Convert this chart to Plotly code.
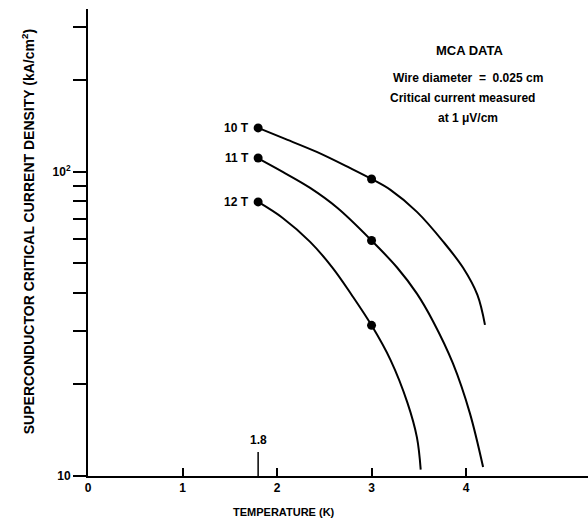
import math
import plotly.graph_objects as go

# Curves: temperature (K) and critical current density (kA/cm^2)
t_10T = [1.80, 2.06, 2.42, 2.77, 3.00, 3.20, 3.48, 3.76, 3.97, 4.12, 4.20]
j_10T = [139.6, 129.4, 116.4, 103.1, 94.8, 87.3, 73.9, 58.9, 48.3, 39.4, 31.4]

t_11T = [1.79, 2.06, 2.35, 2.64, 3.00, 3.27, 3.48, 3.65, 3.86, 4.04, 4.18]
j_11T = [111.2, 100.0, 88.6, 76.1, 59.5, 48.5, 39.8, 32.3, 23.5, 16.1, 10.7]

t_12T = [1.80, 2.06, 2.35, 2.59, 2.79, 3.00, 3.20, 3.38, 3.48, 3.52]
j_12T = [79.7, 70.6, 58.9, 48.3, 39.4, 31.3, 24.1, 17.4, 13.4, 10.5]

# Measured points (dots)
dot_t = [1.8, 3.0]
dot_10T = [139.6, 94.8]
dot_11T = [111.2, 59.5]
dot_12T = [79.7, 31.3]

series_labels = ["10 T", "11 T", "12 T"]

x_tickvals = [0, 1, 2, 3, 4]
x_ticktext = ["<b>0</b>", "<b>1</b>", "<b>2</b>", "<b>3</b>", "<b>4</b>"]
y_tickvals = [10, 20, 30, 40, 50, 60, 70, 80, 90, 100, 200, 300]
y_ticktext = ["<b>10</b>", "", "", "", "", "", "", "", "", "<b>10<sup>2</sup></b>", "", ""]

marker_t = [1.8, 1.8]
marker_j = [10, 12.0]

FONT = "Liberation Sans, Arial, sans-serif"

fig = go.Figure()

curves = [(t_10T, j_10T), (t_11T, j_11T), (t_12T, j_12T)]
dots = [dot_10T, dot_11T, dot_12T]
for (t, j), d, name in zip(curves, dots, series_labels):
    fig.add_trace(go.Scatter(x=t, y=j, mode="lines",
                             line=dict(color="black", width=2, shape="spline", smoothing=1.0),
                             showlegend=False, hoverinfo="skip"))
    fig.add_trace(go.Scatter(x=dot_t, y=d, mode="markers",
                             marker=dict(color="black", size=9),
                             showlegend=False, name=name))
    fig.add_annotation(x=dot_t[0], y=math.log10(d[0]), xref="x", yref="y",
                       text="<b>%s</b>" % name,
                       showarrow=False, xanchor="right", xshift=-7,
                       font=dict(family=FONT, size=12, color="black"))

# 1.8 K marker tick
fig.add_trace(go.Scatter(x=marker_t, y=marker_j, mode="lines",
                         line=dict(color="black", width=1.5),
                         showlegend=False, hoverinfo="skip"))
fig.add_annotation(x=marker_t[1], y=math.log10(marker_j[1]), xref="x", yref="y",
                   text="<b>1.8</b>",
                   showarrow=False, yanchor="bottom", yshift=3,
                   font=dict(family=FONT, size=12, color="black"))

# Info text
fig.add_annotation(x=0.764, y=0.912, xref="paper", yref="paper", text="<b>MCA DATA</b>",
                   showarrow=False, xanchor="center", yanchor="middle",
                   font=dict(family=FONT, size=13, color="black"))
info_lines = ["Wire diameter  =  0.025 cm", "Critical current measured", "at 1 μV/cm"]
info_x = [0.759, 0.748, 0.759]
info_y = [0.852, 0.809, 0.767]
for txt, xx, yy in zip(info_lines, info_x, info_y):
    fig.add_annotation(x=xx, y=yy, xref="paper", yref="paper", text="<b>%s</b>" % txt,
                       showarrow=False, xanchor="center", yanchor="middle",
                       font=dict(family=FONT, size=12, color="black"))

fig.add_annotation(x=-0.12, y=0.522, xref="paper", yref="paper",
                   text="<b>SUPERCONDUCTOR CRITICAL CURRENT DENSITY (kA/cm<sup>2</sup>)</b>",
                   showarrow=False, textangle=-90, xanchor="center", yanchor="middle",
                   font=dict(family=FONT, size=14, color="black"))

fig.add_annotation(x=0.392, y=-0.077, xref="paper", yref="paper",
                   text="<b>TEMPERATURE (K)</b>",
                   showarrow=False, xanchor="center", yanchor="middle",
                   font=dict(family=FONT, size=11, color="black"))

fig.update_layout(
    width=588, height=520,
    margin=dict(l=88, r=0, t=9, b=44, autoexpand=False),
    paper_bgcolor="white", plot_bgcolor="white",
    font=dict(family=FONT, color="black"),
    xaxis=dict(range=[0, 5.29], tickmode="array", tickvals=x_tickvals, ticktext=x_ticktext,
               ticks="inside", ticklen=8, tickwidth=1.5, tickcolor="black",
               showline=True, linecolor="black", linewidth=2, showgrid=False, zeroline=False,
               automargin=False,
               tickfont=dict(family=FONT, size=12, color="black")),
    yaxis=dict(type="log", range=[1, 2.536], tickmode="array", tickvals=y_tickvals,
               ticktext=y_ticktext, ticks="outside", ticklen=13, tickwidth=2, tickcolor="black",
               showline=True, linecolor="black", linewidth=2, showgrid=False, zeroline=False,
               automargin=False,
               tickfont=dict(family=FONT, size=12, color="black")),
)

fig.write_html("out.html", config={"displayModeBar": False},
               post_script="document.body.style.margin='0';document.body.style.padding='0';")
